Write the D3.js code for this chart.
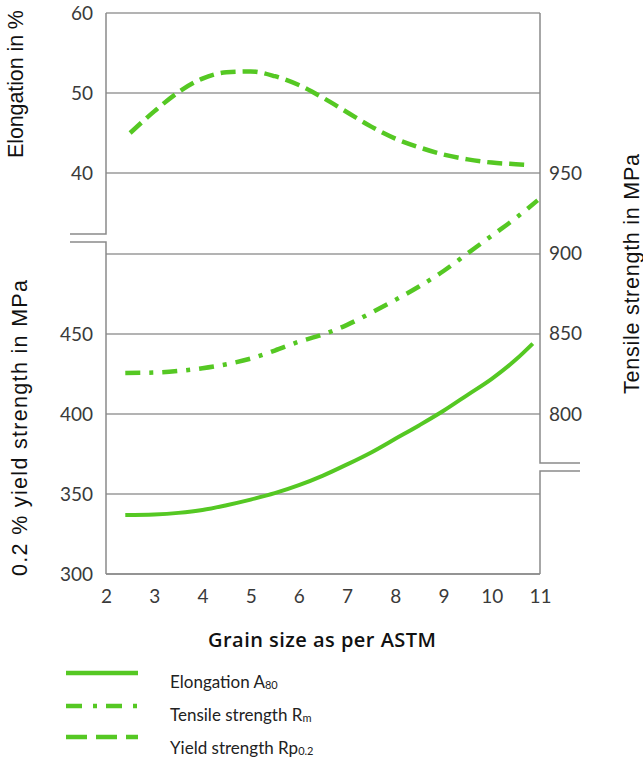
<!DOCTYPE html>
<html>
<head>
<meta charset="utf-8">
<script src="https://cdn.jsdelivr.net/npm/d3@7"></script>
<style>
  html, body { margin: 0; padding: 0; background: #fff; }
  svg { display: block; }
</style>
</head>
<body>
<svg id="chart" width="643" height="763"></svg>
<script>
// ---- data ----
const grainTicks = [2, 3, 4, 5, 6, 7, 8, 9, 10, 11];
const elongTicks = [40, 50, 60];
const yieldTicks = [300, 350, 400, 450];
const tensileTicks = [800, 850, 900, 950];

// Solid curve (plotted against left lower axis, MPa)
const solidGrain  = [2.4, 3, 3.5, 4, 4.5, 5, 5.5, 6, 6.5, 7, 7.5, 8, 8.5, 9, 9.5, 10, 10.5, 10.85];
const solidValues = [336.8, 337.2, 338.2, 340, 343, 346.5, 350.5, 355.5, 361.5, 368.5, 376, 384.5, 393, 402, 412, 422, 434, 444];

// Dash-dot curve (plotted against right axis, MPa)
const dashDotGrain  = [2.4, 3, 3.5, 4, 4.5, 5, 5.5, 6, 6.5, 7, 7.5, 8, 8.5, 9, 9.5, 10, 10.5, 10.95];
const dashDotValues = [825.5, 825.8, 826.8, 828.5, 831, 834.5, 839.5, 845, 849.5, 855.5, 863, 871, 879.5, 889, 900, 911, 922, 933];

// Dashed curve (plotted against left upper axis, %)
const dashedGrain  = [2.5, 3, 3.5, 4, 4.5, 5, 5.5, 6, 6.5, 7, 7.5, 8, 8.5, 9, 9.5, 10, 10.5, 10.8];
const dashedValues = [45.0, 47.7, 50.1, 51.8, 52.6, 52.7, 52.1, 51.0, 49.4, 47.6, 45.8, 44.3, 43.2, 42.3, 41.7, 41.3, 41.1, 41.0];

const legendLabels = [
  { main: "Elongation A", sub: "80", style: "solid" },
  { main: "Tensile strength R", sub: "m", style: "dashdot" },
  { main: "Yield strength Rp", sub: "0.2", style: "dashed" }
];
const xTitle = "Grain size as per ASTM";
const elongTitle = "Elongation in %";
const yieldTitle = "0.2 % yield strength in MPa";
const tensileTitle = "Tensile strength in MPa";

// ---- layout ----
const svg = d3.select("#chart");
const green = "#55c823";
const gridColor = "#9a9a9a";
const tickFont = "Lato, 'Open Sans', sans-serif";
const titleFont = "'Liberation Sans', Arial, sans-serif";

const x = d3.scaleLinear().domain([2, 11]).range([106, 540]);
const yElong = d3.scaleLinear().domain([30, 60]).range([253, 13]);
const yYield = d3.scaleLinear().domain([300, 500]).range([574, 254]);
const yTens = d3.scaleLinear().domain([800, 950]).range([414, 173]);

const left = x.range()[0], right = x.range()[1];

// gridlines
const gridYs = elongTicks.map(yElong).concat([yYield(500)]).concat(yieldTicks.map(yYield));
svg.append("g").selectAll("line").data(gridYs).join("line")
  .attr("x1", left).attr("x2", right)
  .attr("y1", d => d).attr("y2", d => d)
  .attr("stroke", gridColor).attr("stroke-width", 1.3);

// left axis with break
const axisG = svg.append("g").attr("stroke", "#8a8a8a").attr("stroke-width", 1.5).attr("fill", "none");
const lBreakTop = 234, lBreakBot = 242, breakLeft = 70;
axisG.append("path").attr("d", `M${left},${yElong(60)}V${lBreakTop}H${breakLeft}`);
axisG.append("path").attr("d", `M${breakLeft},${lBreakBot}H${left}V${yYield(300)}`);
// right axis with break
const rBreakTop = 463, rBreakBot = 471, breakRight = 580;
axisG.append("path").attr("d", `M${right},${yElong(60)}V${rBreakTop}H${breakRight}`);
axisG.append("path").attr("d", `M${breakRight},${rBreakBot}H${right}V${yYield(300)}`);
// bottom
axisG.append("path").attr("d", `M${left},${yYield(300)}H${right}`);

// axes tick labels via d3 axes
function styleAxis(g) {
  g.select(".domain").remove();
  g.selectAll(".tick line").remove();
  g.selectAll("text").attr("font-family", tickFont).attr("font-size", 19).attr("fill", "#3a3a3a");
}
svg.append("g").attr("transform", `translate(${left},0)`)
  .call(d3.axisLeft(yElong).tickValues(elongTicks).tickSize(0).tickPadding(13))
  .call(styleAxis);
svg.append("g").attr("transform", `translate(${left},0)`)
  .call(d3.axisLeft(yYield).tickValues(yieldTicks).tickSize(0).tickPadding(13))
  .call(styleAxis);
svg.append("g").attr("transform", `translate(${right},0)`)
  .call(d3.axisRight(yTens).tickValues(tensileTicks).tickSize(0).tickPadding(9))
  .call(styleAxis);
svg.append("g").attr("transform", `translate(0,${yYield(300)})`)
  .call(d3.axisBottom(x).tickValues(grainTicks).tickSize(0).tickPadding(16))
  .call(styleAxis);

// curves
const lineGen = (xs, ys, yScale) => d3.line().curve(d3.curveMonotoneX)
  .x((d, i) => x(xs[i])).y((d, i) => yScale(ys[i]))(xs);

svg.append("path").attr("d", lineGen(solidGrain, solidValues, yYield))
  .attr("fill", "none").attr("stroke", green).attr("stroke-width", 4);
svg.append("path").attr("d", lineGen(dashDotGrain, dashDotValues, yTens))
  .attr("fill", "none").attr("stroke", green).attr("stroke-width", 4.5)
  .attr("stroke-dasharray", "15,9,4,9");
svg.append("path").attr("d", lineGen(dashedGrain, dashedValues, yElong))
  .attr("fill", "none").attr("stroke", green).attr("stroke-width", 4.5)
  .attr("stroke-dasharray", "15,7");

// axis titles
svg.append("text").attr("x", 322 - 114).attr("y", 647)
  .attr("textLength", 228).attr("lengthAdjust", "spacing")
  .attr("font-family", "'Open Sans', Lato, sans-serif").attr("font-weight", 600).attr("font-size", 20)
  .attr("fill", "#111").text(xTitle);

function rotTitle(txt, cx, cy, len) {
  svg.append("text").attr("transform", `translate(${cx},${cy}) rotate(-90)`)
    .attr("x", -len / 2)
    .attr("dominant-baseline", "central")
    .attr("textLength", len).attr("lengthAdjust", "spacing")
    .attr("font-family", titleFont).attr("font-size", 21.5).attr("fill", "#111").text(txt);
}
rotTitle(elongTitle, 16, 84, 148);
rotTitle(yieldTitle, 20, 428, 296);
rotTitle(tensileTitle, 632, 274, 240);

// legend
const dashes = { solid: null, dashdot: "16,11,4,9", dashed: "21,9" };
const legY = [673, 706, 737];
const legTextY = [688, 721, 754];
const leg = svg.append("g");
legendLabels.forEach((l, i) => {
  leg.append("line").attr("x1", 66).attr("x2", 138).attr("y1", legY[i]).attr("y2", legY[i])
    .attr("stroke", green).attr("stroke-width", 4.5)
    .attr("stroke-dasharray", dashes[l.style]);
  const t = leg.append("text").attr("x", 170).attr("y", legTextY[i])
    .attr("font-family", tickFont).attr("font-size", 17).attr("fill", "#222");
  t.append("tspan").text(l.main);
  t.append("tspan").attr("font-size", 11).attr("dy", 1).text(l.sub);
});
</script>
</body>
</html>
